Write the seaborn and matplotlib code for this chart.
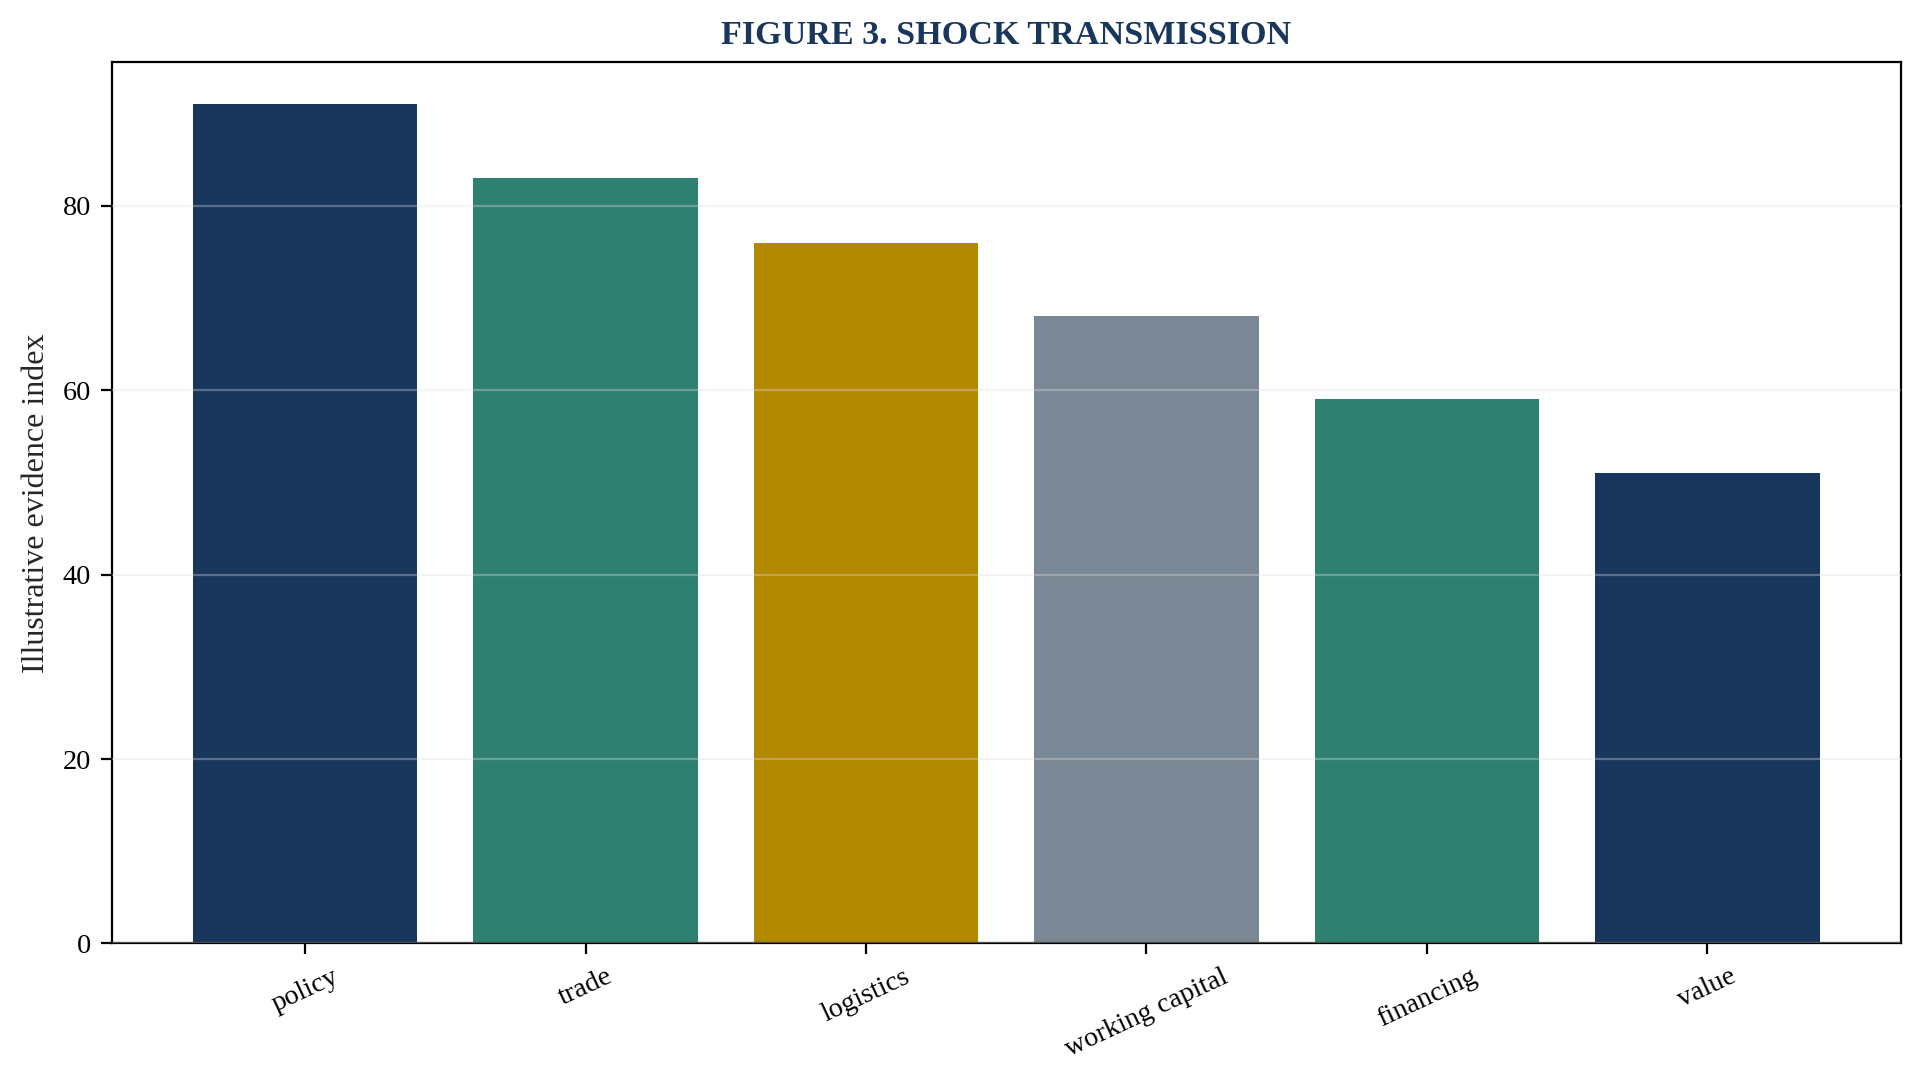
import seaborn as sns
import matplotlib.pyplot as plt

categories = ["policy", "trade", "logistics", "working capital", "financing", "value"]
values = [91, 83, 76, 68, 59, 51]
bar_colors = ["#19365D", "#2E8070", "#B38900", "#7A8794", "#2E8070", "#19365D"]

NAVY = "#19365D"

sns.set_style("white")
plt.rcParams["font.family"] = ["Liberation Serif", "DejaVu Serif"]

fig, ax = plt.subplots(figsize=(9.62, 5.385), dpi=200)

sns.barplot(
    x=categories,
    y=values,
    hue=categories,
    palette=bar_colors,
    saturation=1,
    width=0.8,
    linewidth=0,
    legend=False,
    ax=ax,
)

n = len(categories)
pad = 0.05 * (n - 1 + 0.8)
ax.set_xlim(-0.4 - pad, n - 1 + 0.4 + pad)
ax.set_ylim(0, max(values) * 1.05)

# faint horizontal grid, drawn over the bars
ax.set_axisbelow(False)
ax.yaxis.grid(True, color="#dddddd", linewidth=0.8, alpha=0.35)
ax.xaxis.grid(False)

for side in ["top", "right", "bottom", "left"]:
    ax.spines[side].set_visible(True)
    ax.spines[side].set_color("black")
    ax.spines[side].set_linewidth(0.8)

ax.tick_params(axis="both", direction="out", length=4, width=0.8,
               labelsize=10.2, colors="black", bottom=True, left=True)
plt.setp(ax.get_xticklabels(), rotation=25, ha="center")

ax.set_xlabel("")
ax.set_ylabel("Illustrative evidence index", fontsize=11.5)
ax.set_title("FIGURE 3. SHOCK TRANSMISSION", fontsize=12.3, fontweight="bold",
             color=NAVY, pad=6.5)

fig.subplots_adjust(left=0.058, right=0.988, top=0.942, bottom=0.124)
fig.savefig("out.png", dpi=200)
plt.close(fig)
